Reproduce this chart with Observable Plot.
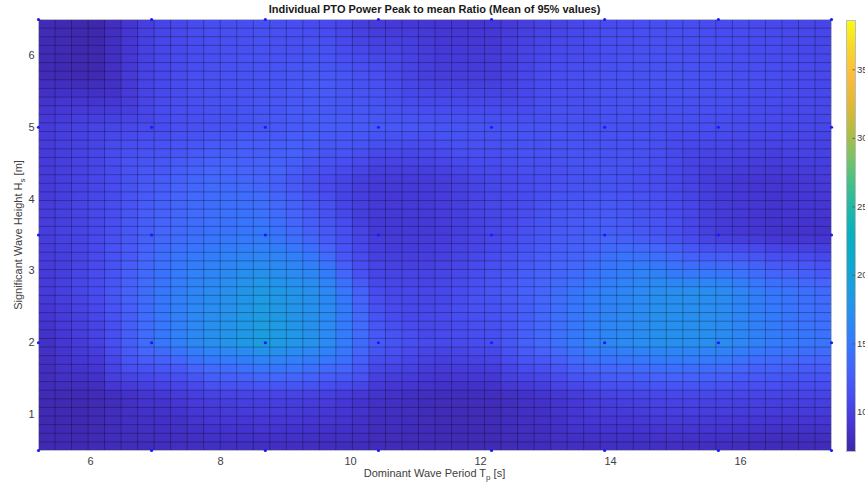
<!DOCTYPE html>
<html><head><meta charset="utf-8">
<script src="https://cdn.jsdelivr.net/npm/d3@7"></script>
<script src="https://cdn.jsdelivr.net/npm/@observablehq/plot@0.6"></script>
<style>
html,body{margin:0;padding:0;background:#fff;overflow:hidden;}
#wrap{position:relative;width:865px;height:485px;font-family:"Liberation Sans",Arial,sans-serif;overflow:hidden;}
#main,#cbar{position:absolute;top:0;}
#main{left:0;width:865px;}
#cbar{left:846px;width:19px;overflow:hidden;}
#wrap svg{max-width:none !important;}
.title{position:absolute;top:3px;left:38px;width:793px;text-align:center;font-weight:bold;font-size:11px;color:#1a1a1a;white-space:nowrap;}
.xlab{position:absolute;top:467px;left:38px;width:793px;text-align:center;font-size:11px;color:#404040;white-space:nowrap;}
.ylab{position:absolute;left:18px;top:235px;transform:translate(-50%,-50%) rotate(-90deg);white-space:nowrap;font-size:11px;color:#404040;}
sub{font-size:8px;line-height:0;vertical-align:-3px;}
</style>
</head><body>
<div id="wrap">
  <div id="main"></div>
  <div id="cbar"></div>
  <div class="title">Individual PTO Power Peak to mean Ratio (Mean of 95% values)</div>
  <div class="xlab">Dominant Wave Period T<sub>p</sub> [s]</div>
  <div class="ylab">Significant Wave Height H<sub>s</sub> [m]</div>
</div>
<script>
// ---- data ----
const tpNodes = [5.2, 6.94, 8.69, 10.43, 12.17, 13.91, 15.66, 17.4];   // measured Tp [s]
const hsNodes = [0.5, 2, 3.5, 5, 6.5];                                  // measured Hs [m]
// values read from the picture on a finer reading grid
const tpRead = [5.2, 6.07, 6.94, 7.81, 8.69, 9.56, 10.43, 11.3, 12.17, 13.04, 13.91, 14.79, 15.66, 16.53, 17.4];
const hsRead = [6.5, 5.75, 5, 4.25, 3.5, 2.75, 2, 1.25, 0.5];
const ratioHs650 = [7.9, 7.3, 10.2, 11.2, 11.4, 11.0, 9.3, 9.0, 9.1, 10.2, 11.0, 11.2, 11.0, 10.8, 10.4];
const ratioHs575 = [7.8, 7.5, 10.5, 11.4, 11.7, 12.2, 11.2, 9.7, 9.6, 11.1, 11.5, 11.7, 11.5, 11.2, 10.7];
const ratioHs500 = [9.4, 10.3, 11.0, 11.5, 12.0, 12.5, 12.2, 11.8, 11.7, 11.7, 11.5, 11.4, 11.2, 10.8, 10.5];
const ratioHs425 = [9.3, 10.5, 12.3, 13.6, 13.2, 11.0, 9.3, 9.5, 10.7, 11.3, 11.7, 11.0, 9.4, 9.0, 9.5];
const ratioHs350 = [9.6, 10.7, 13.0, 14.3, 15.0, 12.6, 9.4, 9.4, 10.5, 12.1, 12.8, 11.8, 9.6, 8.8, 8.6];
const ratioHs275 = [9.3, 11.0, 14.3, 16.8, 18.5, 17.2, 10.8, 10.5, 11.8, 13.5, 15.8, 17.3, 17.0, 14.8, 13.4];
const ratioHs200 = [8.3, 10.0, 14.3, 17.3, 19.0, 17.3, 12.2, 10.7, 11.2, 13.8, 16.4, 17.5, 17.2, 15.3, 14.4];
const ratioHs125 = [7.6, 7.7, 8.9, 9.9, 10.2, 9.8, 8.6, 8.0, 8.0, 8.8, 10.0, 10.5, 10.4, 10.2, 10.2];
const ratioHs050 = [7.7, 7.7, 8.0, 8.2, 8.2, 8.0, 7.8, 7.7, 7.7, 8.0, 8.2, 8.2, 8.0, 7.7, 7.7];
const ratioRows = [ratioHs650, ratioHs575, ratioHs500, ratioHs425, ratioHs350, ratioHs275, ratioHs200, ratioHs125, ratioHs050];
const colorLimits = [7.15, 38.6];
const xTicks = [6, 8, 10, 12, 14, 16];
const yTicks = [1, 2, 3, 4, 5, 6];
const cbTicks = [10, 15, 20, 25, 30, 35];
const meshCols = 48, meshRows = 50;

// ---- parula-like colormap ----
const parulaStops = ["#3e26a8","#4536d4","#484cf0","#4663fc","#3579fd","#2a8cf2","#1c9ee0","#0ea8d0",
  "#06b0c0","#1eb8a8","#46c088","#80c264","#b8bd40","#e6b838","#fdbd3d","#f7d82a","#f9fb15"];
const parula = d3.piecewise(d3.interpolateRgb, parulaStops);

const samples = [];
hsRead.forEach((hs, i) => tpRead.forEach((tp, j) => samples.push({tp, hs, v: ratioRows[i][j]})));
const nodes = [];
hsNodes.forEach(hs => tpNodes.forEach(tp => nodes.push({tp, hs})));
const [tpMin, tpMax] = d3.extent(tpNodes), [hsMin, hsMax] = d3.extent(hsNodes);
const meshTp = d3.range(meshCols + 1).map(i => tpMin + i * (tpMax - tpMin) / meshCols);
const meshHs = d3.range(meshRows + 1).map(i => hsMin + i * (hsMax - hsMin) / meshRows);

const colorOpt = {type: "linear", domain: colorLimits, interpolate: parula};
const font = {fontFamily: "'Liberation Sans', Arial, sans-serif", fontSize: "11px", color: "#404040", background: "transparent"};

const main = Plot.plot({
  width: 865, height: 485,
  marginLeft: 38, marginRight: 34, marginTop: 19, marginBottom: 35,
  x: {domain: [tpMin, tpMax], ticks: xTicks, tickSize: 0, tickPadding: 7, tickFormat: d => String(d), label: null},
  y: {domain: [hsMin, hsMax], ticks: yTicks, tickSize: 0, tickPadding: 4, tickFormat: d => String(d), label: null},
  color: colorOpt,
  style: font,
  marks: [
    Plot.raster(samples, {x: "tp", y: "hs", fill: "v", x1: tpMin, x2: tpMax, y1: hsMin, y2: hsMax,
      width: meshCols, height: meshRows, interpolate: "barycentric", imageRendering: "pixelated"}),
    Plot.ruleX(meshTp, {stroke: "#000", strokeOpacity: 0.42, strokeWidth: 0.7}),
    Plot.ruleY(meshHs, {stroke: "#000", strokeOpacity: 0.42, strokeWidth: 0.7}),
    Plot.frame({stroke: "#bdbdbd"}),
    Plot.dot(nodes, {x: "tp", y: "hs", r: 1.6, fill: "#1a1aff"})
  ]
});
document.getElementById("main").appendChild(main);

const cbar = Plot.plot({
  width: 30, height: 485,
  marginLeft: 0, marginRight: 21, marginTop: 20, marginBottom: 34,
  x: {domain: [0, 1], axis: null},
  y: {domain: colorLimits, ticks: cbTicks, tickSize: 0, tickPadding: 1.5, axis: "right", tickFormat: d => String(d), label: null},
  color: colorOpt,
  style: {...font, fontSize: "9.5px"},
  marks: [
    Plot.raster({fill: (x, y) => y, x1: 0, x2: 1, y1: colorLimits[0], y2: colorLimits[1], width: 1, height: 256}),
    Plot.ruleY(cbTicks, {x1: 0.72, x2: 1, stroke: "#555", strokeWidth: 0.8}),
    Plot.frame({stroke: "#bdbdbd"})
  ]
});
document.getElementById("cbar").appendChild(cbar);
</script>
</body></html>
